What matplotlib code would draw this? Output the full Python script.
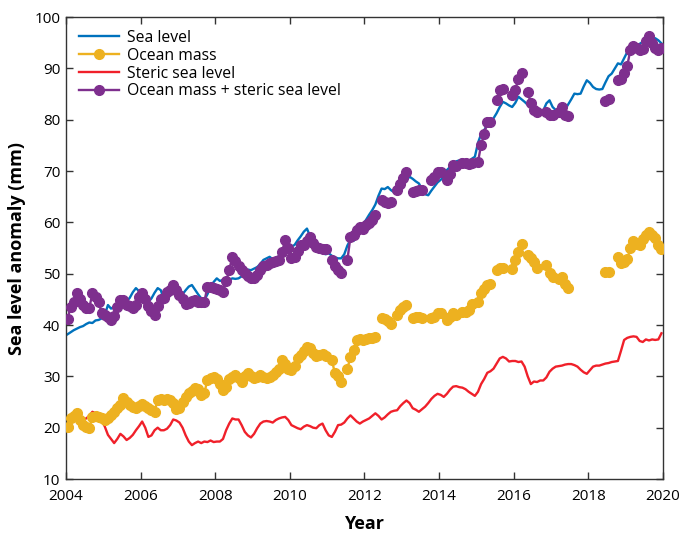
import matplotlib
matplotlib.use("Agg")
import matplotlib.pyplot as plt
import numpy as np

nan = np.nan

# Monthly anomalies (mm), Jan 2004 .. Dec 2019, one row per year
sea_level = [
    38.2, 38.6, 39.0, 39.3, 39.6, 39.8, 40.2, 40.5, 40.4, 40.9, 41.0, 41.3,
    42.0, 43.9, 43.2, 43.6, 43.4, 43.9, 44.1, 44.6, 45.3, 46.4, 47.2, 46.6,
    45.5, 44.8, 44.5, 45.2, 46.3, 47.2, 46.8, 45.0, 45.0, 45.8, 46.4, 46.9,
    46.5, 46.0, 46.8, 47.5, 47.8, 46.9, 46.0, 45.2, 44.9, 46.0, 47.4, 48.4,
    49.1, 48.6, 48.8, 49.0, 48.8, 49.1, 49.0, 49.1, 49.5, 50.0, 50.8, 50.7,
    51.0, 51.3, 51.9, 52.7, 53.0, 53.3, 52.8, 53.0, 53.4, 53.9, 54.3, 54.8,
    55.3, 55.6, 56.5, 57.3, 58.2, 58.8, 57.3, 55.3, 55.0, 54.5, 54.0, 53.8,
    54.0, 53.5, 53.2, 53.0, 53.0, 53.8, 55.5, 56.6, 56.4, 57.5, 58.5, 59.6,
    60.5, 61.5, 62.4, 63.5, 65.2, 66.6, 66.5, 66.9, 66.3, 65.9, 65.7, 66.6,
    67.5, 68.3, 68.9, 68.5, 68.0, 67.6, 66.5, 65.5, 65.3, 66.2, 67.0, 67.8,
    68.3, 68.9, 70.2, 70.8, 71.5, 71.9, 72.1, 72.3, 72.0, 71.8, 72.4, 72.8,
    75.5, 77.2, 78.0, 79.0, 79.5, 80.3, 81.3, 82.5, 83.5, 83.2, 82.8, 82.5,
    83.3, 84.5, 84.0, 83.5, 82.9, 83.0, 82.2, 81.5, 80.9, 81.8, 83.2, 83.8,
    82.5, 81.9, 81.8, 81.9, 82.0, 83.0, 84.0, 85.1, 85.0, 85.1, 86.5, 87.7,
    87.2, 86.4, 86.0, 85.9, 86.0, 87.3, 88.5, 89.0, 90.0, 91.0, 90.8, 92.0,
    93.2, 93.8, 94.3, 94.5, 94.8, 95.2, 95.5, 95.9, 95.6, 95.9, 95.5, 94.9,
]

ocean_mass = [
    20.2, 21.8, 22.2, 22.8, 21.5, 20.5, 20.2, 19.9, 22.1, 22.2, 22.0, 21.8,
    21.5, 21.8, 22.5, 23.0, 23.8, 24.5, 25.7, 25.0, 24.5, 24.0, 23.8, 24.2,
    24.6, 24.3, 23.8, 23.4, 23.1, 25.4, 25.5, 25.4, 25.5, 25.4, 24.8, 23.6,
    23.8, 25.0, 26.0, 26.8, 27.2, 27.7, 27.5, 26.4, 26.8, 29.3, 29.6, 29.9,
    29.5, 28.5, 27.3, 28.0, 29.5, 29.9, 30.2, 29.6, 29.0, 30.0, 30.6, 30.0,
    29.6, 29.9, 30.2, 29.8, 29.6, 29.9, 30.2, 30.9, 31.5, 33.2, 32.5, 31.5,
    31.2, 32.0, 33.5, 34.2, 35.0, 35.8, 35.5, 34.5, 34.0, 34.2, 34.4, 34.0,
    nan, 33.2, 30.6, 30.0, 29.0, nan, 31.5, 33.8, 35.1, 37.1, 37.2, 37.0,
    37.2, 37.5, 37.4, 37.7, nan, 41.3, 41.2, 40.8, 40.3, nan, 41.9, 42.9,
    43.5, 43.9, nan, 41.3, 41.5, 41.6, 41.4, nan, nan, 41.3, 41.6, 42.3,
    42.3, nan, 41.0, 41.5, 42.3, 42.0, nan, 42.6, 42.6, 43.0, 44.2, nan,
    44.5, 46.2, 47.0, 47.8, 48.1, nan, 50.7, 51.1, 51.2, nan, nan, 51.0,
    52.7, 54.3, 55.8, nan, 53.6, 53.0, 52.3, 51.1, nan, nan, 51.7, 50.1,
    49.4, nan, 49.0, 49.4, 48.0, 47.3, nan, nan, nan, nan, nan, nan,
    nan, nan, nan, nan, nan, 50.4, 50.4, nan, nan, 53.3, 52.0, 52.3,
    52.8, 55.0, 56.3, 55.8, 55.6, 56.8, 57.5, 58.2, 57.5, 57.0, 55.6, 54.8,
]

steric = [
    21.0, 21.3, 21.8, 22.0, 21.8, 21.6, 21.8, 22.3, 23.1, 22.8, 22.5, 21.5,
    20.2, 18.6, 17.8, 17.0, 17.8, 18.8, 18.3, 17.6, 18.0, 18.6, 19.5, 20.3,
    21.2, 20.0, 18.2, 18.5, 19.5, 20.0, 19.5, 19.5, 19.8, 20.5, 21.6, 21.4,
    21.0, 20.0, 18.5, 17.3, 16.6, 17.0, 17.3, 17.0, 17.3, 17.2, 17.5, 17.2,
    17.3, 17.3, 17.8, 19.5, 20.8, 21.8, 21.6, 21.6, 20.5, 19.2, 18.5, 18.1,
    18.8, 19.9, 20.8, 21.2, 21.3, 21.2, 21.0, 21.5, 21.8, 22.0, 22.1, 21.5,
    20.5, 20.2, 19.9, 19.7, 20.2, 20.5, 20.3, 20.0, 19.9, 20.5, 20.8, 19.5,
    18.5, 18.2, 19.2, 20.5, 20.6, 21.0, 21.8, 22.4, 21.8, 21.2, 20.8, 21.2,
    21.5, 21.8, 22.3, 22.8, 22.3, 21.6, 22.0, 22.6, 23.1, 23.3, 23.4, 24.2,
    24.8, 25.3, 24.8, 23.8, 23.5, 23.1, 23.6, 24.1, 24.8, 25.6, 26.2, 26.6,
    26.4, 26.0, 26.6, 27.4, 28.0, 28.1, 27.9, 27.8, 27.5, 27.0, 26.6, 26.2,
    27.0, 28.5, 29.5, 30.7, 31.0, 31.5, 32.5, 33.5, 33.8, 33.5, 32.9, 33.0,
    33.0, 32.8, 32.9, 31.9, 30.0, 28.5, 29.0, 28.9, 29.2, 29.2, 29.8, 30.9,
    31.5, 31.9, 32.0, 32.1, 32.3, 32.4, 32.4, 32.2, 31.9, 31.3, 30.8, 30.5,
    31.2, 31.9, 32.1, 32.1, 32.3, 32.5, 32.6, 32.8, 32.9, 33.0, 35.0, 37.1,
    37.5, 37.7, 37.8, 37.7, 36.9, 36.7, 37.2, 37.0, 37.2, 37.1, 37.2, 38.4,
]

mass_plus_steric = [
    41.1, 43.6, 44.5, 46.2, 45.0, 44.0, 43.4, 43.3, 46.2, 45.5, 44.5, 42.3,
    42.0, 41.5, 41.0, 41.8, 43.5, 44.9, 44.8, 44.0, 43.8, 43.3, 44.0, 45.5,
    46.2, 45.0, 43.8, 42.8, 41.9, 43.8, 45.0, 45.2, 46.5, 46.9, 47.8, 46.8,
    45.8, 45.0, 44.2, 44.3, 44.6, 44.8, 44.5, 44.5, 44.5, 47.5, 47.4, 47.3,
    47.0, 46.8, 46.5, 48.5, 50.7, 53.3, 52.4, 51.5, 50.8, 50.1, 49.5, 49.1,
    49.1, 49.8, 50.7, 51.5, 51.7, 52.0, 52.2, 52.4, 52.7, 54.3, 56.6, 55.0,
    53.0, 53.2, 54.5, 55.6, 55.6, 56.4, 57.2, 56.0, 55.3, 55.0, 54.9, 54.9,
    nan, 52.7, 51.5, 50.8, 50.2, nan, 52.7, 57.2, 57.5, 58.5, 59.2, 58.8,
    59.5, 59.8, 60.5, 61.4, nan, 64.4, 64.0, 63.7, 64.0, nan, 66.3, 67.5,
    68.6, 69.9, nan, 66.0, 66.2, 66.3, 66.4, nan, nan, 68.3, 68.9, 69.9,
    69.9, nan, 68.3, 69.5, 71.2, 71.0, nan, 71.5, 71.6, 71.4, 71.5, nan,
    71.8, 75.1, 77.3, 79.6, 79.6, nan, 83.8, 85.8, 86.0, nan, nan, 84.8,
    85.9, 88.0, 89.2, nan, 85.4, 83.2, 81.9, 81.5, nan, nan, 81.5, 81.0,
    81.0, nan, 81.5, 82.5, 80.9, 80.7, nan, nan, nan, nan, nan, nan,
    nan, nan, nan, nan, nan, 83.6, 84.0, nan, nan, 87.7, 88.0, 89.2,
    90.5, 93.6, 94.4, 94.0, 93.6, 93.8, 95.3, 96.3, 95.0, 94.0, 93.6, 93.9,
]

years = 2004 + (np.arange(len(sea_level)) + 0.5) / 12

plt.rcParams['font.family'] = ['Open Sans', 'DejaVu Sans']

fig = plt.figure(figsize=(6.8, 5.37), dpi=100)
ax = fig.add_axes([0.097, 0.108, 0.878, 0.860])

ax.plot(years, sea_level, color='#0072BD', lw=1.7, label='Sea level', zorder=2)
ax.plot(years, ocean_mass, color='#EDB120', lw=1.7, marker='o', ms=7,
        label='Ocean mass', zorder=3)
ax.plot(years, steric, color='#F0202A', lw=1.7, label='Steric sea level', zorder=2)
ax.plot(years, mass_plus_steric, color='#7E2F8E', lw=1.7, marker='o', ms=7,
        label='Ocean mass + steric sea level', zorder=3)

ax.set_xlim(2004, 2020)
ax.set_ylim(10, 100)
ax.set_xticks(np.arange(2004, 2021, 2))
ax.set_yticks(np.arange(10, 101, 10))
ax.tick_params(direction='in', top=True, right=True, length=5, width=1,
               labelsize=11, color='#333333')
ax.tick_params(axis='x', pad=7)
ax.tick_params(axis='y', pad=4)
for s in ax.spines.values():
    s.set_color('#333333')
    s.set_linewidth(1.0)

ax.set_xlabel('Year', fontsize=13, fontweight='bold', labelpad=8)
ax.set_ylabel('Sea level anomaly (mm)', fontsize=13, fontweight='bold', labelpad=6)

leg = ax.legend(loc='upper left', frameon=False, fontsize=11.3, handlelength=2.6,
                labelspacing=0.12, borderaxespad=0.4, handletextpad=0.5)

fig.savefig('out.png', dpi=100)
